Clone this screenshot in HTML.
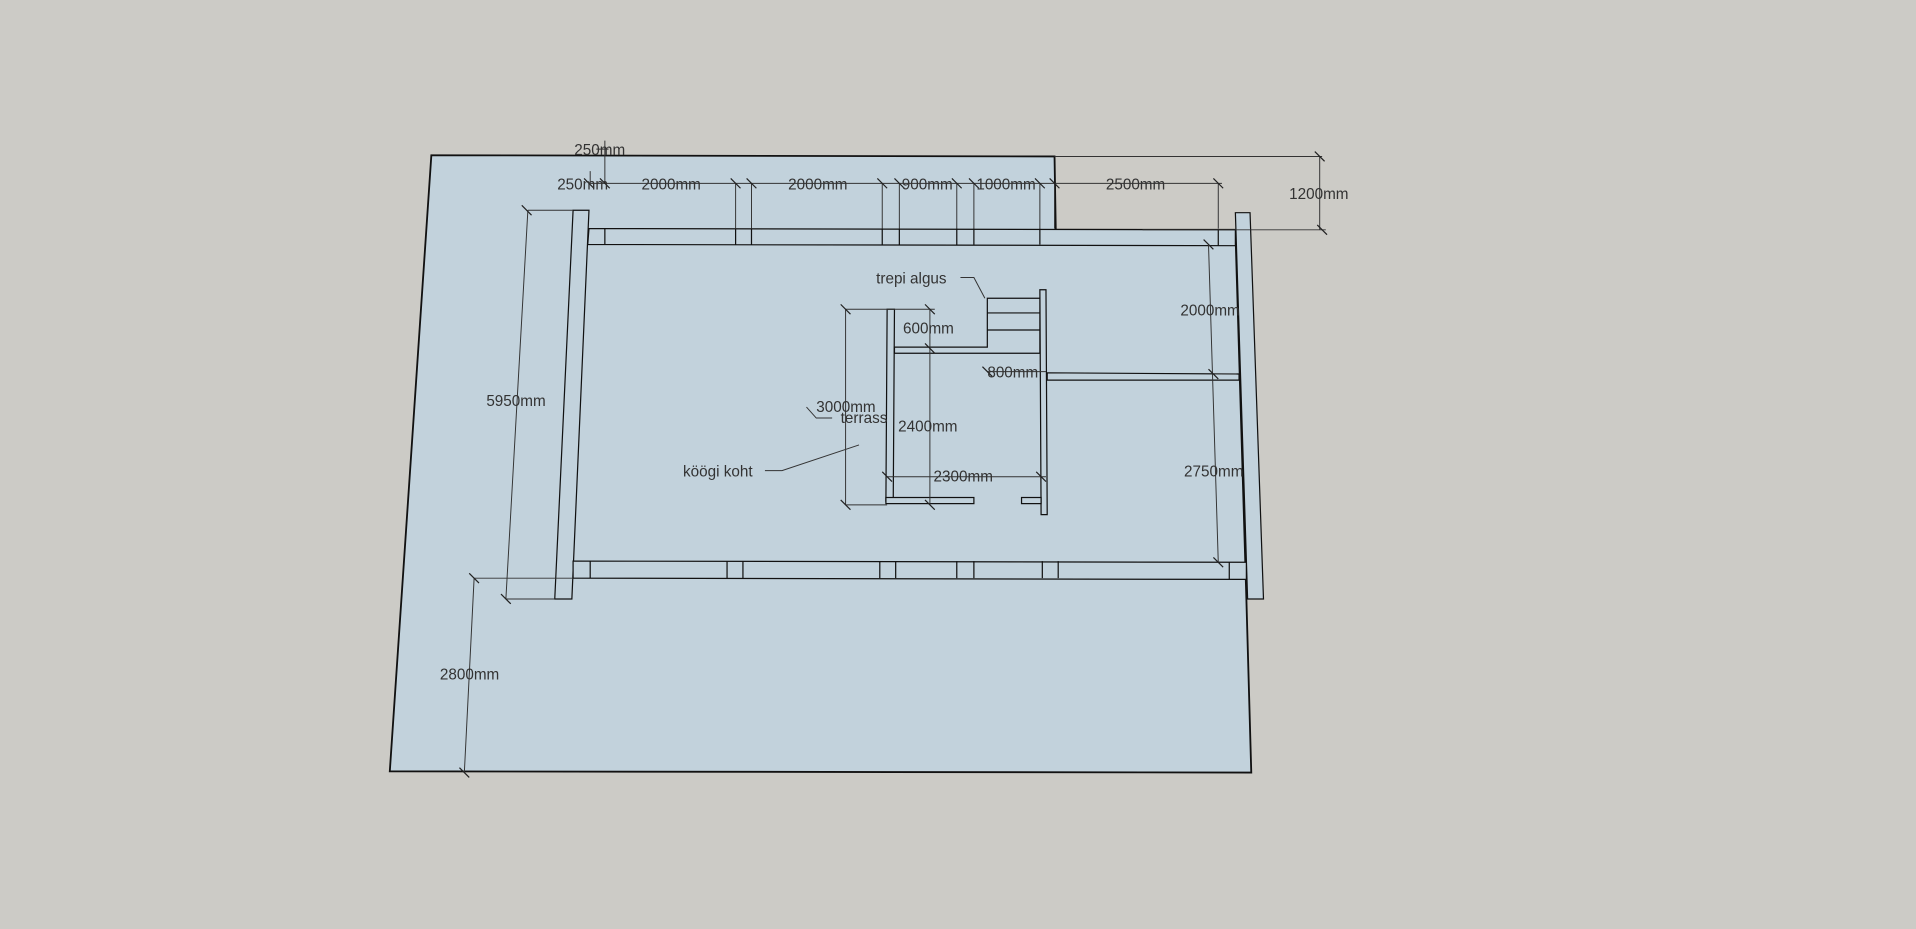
<!DOCTYPE html>
<html><head><style>
html,body{margin:0;padding:0;background:#cccbc6;}
svg{display:block}
text{font-family:"Liberation Sans","DejaVu Sans",sans-serif;font-size:12.5px;fill:#333;}
</style></head><body>
<svg width="1916" height="929" viewBox="0 0 1568 760" preserveAspectRatio="none" xmlns="http://www.w3.org/2000/svg">
<rect width="1568" height="760" fill="#cccbc6"/>
<polygon points="353,127 863,128 864,188 1011,188 1020,490 1024,632 319,631" fill="#c2d2dc" stroke="#111" stroke-width="1.5"/>
<g fill="#c2d2dc" stroke="#111" stroke-width="1">
<!-- walls -->
<polygon points="469,172 482,172 468,490 454,490"/>
<polygon points="1011,174 1023,174 1034,490 1021,490"/>
<polygon points="482,187 1011,188 1011,201 481,200"/>
<polygon points="469,459 1020,460 1020,474 469,473"/>
<!-- stair -->
<polygon points="851,237 856,237 857,421 852,421"/>
<polygon points="726,253 732,253 731,410 725,410"/>
<rect x="725" y="407" width="72" height="5"/>
<rect x="836" y="407" width="16" height="5"/>
<polygon points="808,244 851,244 851,289 732,289 732,284 808,284"/>
<polygon points="857,305 1014,306 1014,311 857,311"/>
</g>
<g stroke="#111" stroke-width="1" fill="none">
<!-- posts top beam -->
<path d="M495,187V200 M602,187V200 M615,187V200 M722,187V200 M736,187V200 M783,187V200 M797,187V200 M851,187V200 M997,188V201"/>
<path d="M483,459V473 M595,459V473 M608,459V473 M720,459V473 M733,459V473 M783,459V473 M797,459V473 M853,459V473 M866,459V473 M1006,460V474"/>
<path d="M808,256H851 M808,270H851"/>
</g>
<g stroke="#333" stroke-width="0.8" fill="none">
<!-- top dims -->
<path d="M482,150H1000 M488,122H498 M863,128L1082,128 M935,188L1085,188 M1080,128V188"/>
<path d="M483,150L483,140 M495,150V115 M602,150V187 M615,150V187 M722,150V187 M736,150V187 M783,150V187 M797,150V187 M851,150V187 M863,150V187 M997,150V187"/>
<path d="M432,172H469 M432,172L414,490 M414,490H454"/>
<path d="M388,473H469 M388,473L380,632"/>
<path d="M989,200L997,460 M993,306H1012"/>
<path d="M692,253H765 M761,253V413 M692,253V413 M692,413H726"/>
<path d="M726,390H856"/>
<path d="M808,304H856"/>
<path d="M786,227H797L806,244 M626,385H640L703,364 M681,342H668L660,333"/>
</g>
<g stroke="#222" stroke-width="1">
<path d="M427,168l8,8 M410,486l8,8 M384,469l8,8 M376,628l8,8 M478,146l8,8 M491,146l8,8 M598,146l8,8 M611,146l8,8 M718,146l8,8 M732,146l8,8 M779,146l8,8 M793,146l8,8 M847,146l8,8 M859,146l8,8 M993,146l8,8 M1076,124l8,8 M1078,184l8,8 M985,196l8,8 M989,302l8,8 M993,456l8,8 M688,249l8,8 M757,249l8,8 M688,409l8,8 M757,409l8,8 M757,281l8,8 M722,386l8,8 M848,386l8,8 M804,300l8,8"/>
</g>
<g>
<text x="470" y="127">250mm</text>
<text x="456" y="155">250mm</text>
<text x="525" y="155">2000mm</text>
<text x="645" y="155">2000mm</text>
<text x="738" y="155">900mm</text>
<text x="799" y="155">1000mm</text>
<text x="905" y="155">2500mm</text>
<text x="1055" y="163">1200mm</text>
<text x="717" y="232">trepi algus</text>
<text x="966" y="258">2000mm</text>
<text x="739" y="273">600mm</text>
<text x="808" y="309">800mm</text>
<text x="398" y="332">5950mm</text>
<text x="668" y="337">3000mm</text>
<text x="688" y="346">terrass</text>
<text x="735" y="353">2400mm</text>
<text x="559" y="390">köögi koht</text>
<text x="764" y="394">2300mm</text>
<text x="969" y="390">2750mm</text>
<text x="360" y="556">2800mm</text>
</g>
</svg>
</body></html>
